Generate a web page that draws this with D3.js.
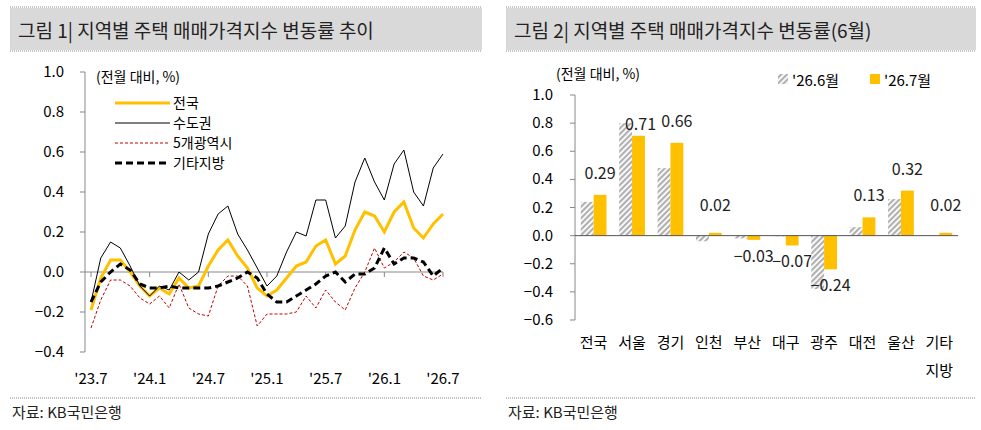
<!DOCTYPE html>
<html><head><meta charset="utf-8">
<script src="https://d3js.org/d3.v7.min.js"></script>
<style>
body{margin:0;background:#fff;font-family:"Noto Sans CJK KR","Noto Sans",sans-serif}
</style></head><body>
<svg id="c" width="981" height="430"></svg>
<script>
// 그림 1 data
var months = d3.range(37); // '23.7 .. '26.7
var xTickLabels = ["'23.7","'24.1","'24.7","'25.1","'25.7","'26.1","'26.7"];
var national = [-0.19,-0.03,0.06,0.06,0.0,-0.07,-0.12,-0.08,-0.11,-0.03,-0.08,-0.07,0.03,0.11,0.16,0.08,0.02,-0.08,-0.12,-0.09,-0.03,0.03,0.05,0.13,0.16,0.04,0.08,0.21,0.30,0.28,0.20,0.30,0.35,0.22,0.17,0.24,0.29];
var capital = [-0.15,0.07,0.15,0.12,0.03,-0.07,-0.12,-0.07,-0.09,0.0,-0.04,0.0,0.19,0.29,0.33,0.19,0.11,0.02,-0.07,-0.02,0.10,0.20,0.18,0.36,0.36,0.17,0.23,0.45,0.57,0.45,0.36,0.54,0.61,0.40,0.33,0.52,0.59];
var metro5 = [-0.28,-0.14,-0.04,-0.04,-0.07,-0.13,-0.16,-0.12,-0.18,-0.06,-0.18,-0.21,-0.22,-0.07,-0.02,-0.02,-0.07,-0.27,-0.21,-0.21,-0.21,-0.20,-0.12,-0.18,-0.09,-0.15,-0.19,-0.08,0.0,0.12,0.02,0.05,0.10,0.07,-0.02,-0.04,-0.01];
var others = [-0.15,-0.05,0.0,0.04,0.01,-0.06,-0.08,-0.08,-0.07,-0.08,-0.08,-0.08,-0.08,-0.07,-0.05,-0.03,0.0,-0.03,-0.11,-0.15,-0.15,-0.12,-0.09,-0.06,-0.02,0.0,-0.05,-0.01,-0.01,0.02,0.12,0.04,0.07,0.07,0.05,-0.02,0.02];

// 그림 2 data
var regions = ["전국","서울","경기","인천","부산","대구","광주","대전","울산","기타\n지방"];
var june = [0.24,0.80,0.48,-0.04,-0.02,-0.005,-0.38,0.06,0.26,0.0];
var july = [0.29,0.71,0.66,0.02,-0.03,-0.07,-0.24,0.13,0.32,0.02];

var svg = d3.select("#c");
var defs = svg.append("defs");
var pat = defs.append("pattern").attr("id","hatch").attr("width",4).attr("height",4)
  .attr("patternUnits","userSpaceOnUse").attr("patternTransform","rotate(45)");
pat.append("rect").attr("width",4).attr("height",4).attr("fill","#fff");
pat.append("rect").attr("width",2.2).attr("height",4).attr("fill","#b0b0b0");

function header(x0, x1, title) {
  svg.append("rect").attr("x",x0).attr("y",8).attr("width",x1-x0).attr("height",42).attr("fill","#d9d9d9");
  [7,51].forEach(function(y){
    svg.append("line").attr("x1",x0).attr("x2",x1).attr("y1",y).attr("y2",y)
      .attr("stroke","#888").attr("stroke-dasharray","1,1");
  });
  svg.append("text").attr("x",x0+8).attr("y",38).attr("font-size",19).attr("fill","#222").text(title);
  svg.append("line").attr("x1",x0).attr("x2",x1).attr("y1",398).attr("y2",398)
    .attr("stroke","#888").attr("stroke-dasharray","1,1");
  svg.append("text").attr("x",x0+2).attr("y",418).attr("font-size",15).attr("fill","#222").text("자료: KB국민은행");
}
header(10, 482, "그림 1| 지역별 주택 매매가격지수 변동률 추이");
header(506, 976, "그림 2| 지역별 주택 매매가격지수 변동률(6월)");

// ---- left chart
var x1 = d3.scaleLinear().domain([0,36]).range([91,443]);
var y1 = d3.scaleLinear().domain([-0.4,1.0]).range([352,72]);
var g1 = svg.append("g");
g1.append("line").attr("x1",85).attr("x2",85).attr("y1",72).attr("y2",352).attr("stroke","#888");
g1.selectAll(".yt").data(d3.range(-0.4,1.01,0.2)).enter().append("g").each(function(d){
  var g = d3.select(this);
  g.append("line").attr("x1",80).attr("x2",85).attr("y1",y1(d)).attr("y2",y1(d)).attr("stroke","#888");
  g.append("text").attr("x",64).attr("y",y1(d)+5).attr("text-anchor","end").attr("font-size",15)
    .text(Math.abs(d)<1e-9?"0.0":(d<0?"\u2212":"")+Math.abs(d).toFixed(1));
});
g1.append("line").attr("x1",85).attr("x2",443).attr("y1",y1(0)).attr("y2",y1(0)).attr("stroke","#888");
d3.range(0,37,6).forEach(function(m,i){
  g1.append("line").attr("x1",x1(m)).attr("x2",x1(m)).attr("y1",y1(0)).attr("y2",y1(0)+5).attr("stroke","#888");
  g1.append("text").attr("x",x1(m)).attr("y",384).attr("text-anchor","middle").attr("font-size",15).text(xTickLabels[i]);
});
var line = d3.line().x(function(d,i){return x1(i);}).y(function(d){return y1(d);});
var series = [
  {name:"전국", data:national, color:"#ffc000", w:3, dash:null},
  {name:"수도권", data:capital, color:"#000", w:1, dash:null},
  {name:"5개광역시", data:metro5, color:"#c00000", w:1, dash:"3,2"},
  {name:"기타지방", data:others, color:"#000", w:3, dash:"7,4"}
];
series.forEach(function(s,i){
  g1.append("path").attr("d",line(s.data)).attr("fill","none").attr("stroke",s.color)
    .attr("stroke-width",s.w).attr("stroke-dasharray",s.dash);
  var ly = 103 + i*20;
  g1.append("line").attr("x1",115).attr("x2",170).attr("y1",ly).attr("y2",ly).attr("stroke",s.color)
    .attr("stroke-width",s.w).attr("stroke-dasharray",s.dash);
  g1.append("text").attr("x",173).attr("y",ly+5).attr("font-size",14).text(s.name);
});
g1.append("text").attr("x",96).attr("y",82).attr("font-size",14).text("(전월 대비, %)");

// ---- right chart
var x2 = d3.scaleBand().domain(regions).range([575,958]).paddingInner(0.33).paddingOuter(0.15);
var y2 = d3.scaleLinear().domain([-0.6,1.0]).range([320,95]);
var g2 = svg.append("g");
g2.append("line").attr("x1",575).attr("x2",575).attr("y1",95).attr("y2",320).attr("stroke","#888");
g2.selectAll(".yt").data(d3.range(-0.6,1.01,0.2)).enter().append("g").each(function(d){
  var g = d3.select(this);
  g.append("line").attr("x1",570).attr("x2",575).attr("y1",y2(d)).attr("y2",y2(d)).attr("stroke","#888");
  g.append("text").attr("x",553).attr("y",y2(d)+5).attr("text-anchor","end").attr("font-size",15)
    .text(Math.abs(d)<1e-9?"0.0":(d<0?"\u2212":"")+Math.abs(d).toFixed(1));
});
var bw = x2.bandwidth()/2;
regions.forEach(function(r,i){
  var bx = x2(r);
  g2.append("rect").attr("x",bx).attr("width",bw).attr("y",y2(Math.max(0,june[i])))
    .attr("height",Math.abs(y2(june[i])-y2(0))).attr("fill","url(#hatch)");
  g2.append("rect").attr("x",bx+bw).attr("width",bw).attr("y",y2(Math.max(0,july[i])))
    .attr("height",Math.abs(y2(july[i])-y2(0))).attr("fill","#ffc000");
  var v = july[i];
  var ty = v>=0 ? Math.min(y2(v), y2(june[i])) - 16 : y2(v) + 22;
  if (i===1) ty = y2(v) - 6;
  if (i===3 || i===9) ty = y2(v) - 22;
  g2.append("text").attr("x",bx+bw*1.5 - (i===1?-2:0)).attr("y",ty).attr("text-anchor","middle").attr("font-size",16)
    .attr("fill","#222").text((v<0?"\u2212":"")+Math.abs(v).toFixed(2));
  r.split("\n").forEach(function(t,k){
    g2.append("text").attr("x",bx+bw).attr("y",348+k*28).attr("text-anchor","middle").attr("font-size",15).text(t);
  });
});
g2.append("line").attr("x1",575).attr("x2",958).attr("y1",y2(0)).attr("y2",y2(0)).attr("stroke","#555");
g2.append("text").attr("x",556).attr("y",79).attr("font-size",14).text("(전월 대비, %)");
g2.append("rect").attr("x",778).attr("y",74).attr("width",10).attr("height",10).attr("fill","url(#hatch)");
g2.append("text").attr("x",792).attr("y",86).attr("font-size",15).text("'26.6월");
g2.append("rect").attr("x",870).attr("y",74).attr("width",10).attr("height",10).attr("fill","#ffc000");
g2.append("text").attr("x",884).attr("y",86).attr("font-size",15).text("'26.7월");
</script></body></html>
